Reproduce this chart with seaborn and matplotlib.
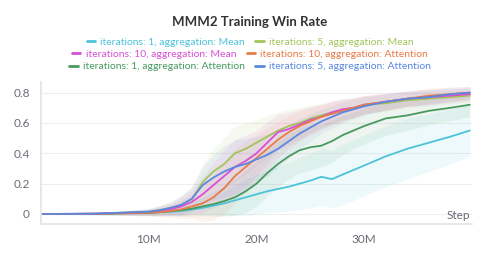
import matplotlib
matplotlib.use("Agg")
import matplotlib.pyplot as plt
from matplotlib.lines import Line2D
import seaborn as sns
import numpy as np
import pandas as pd

steps = [0, 5, 10, 11, 12, 13, 14, 15, 16, 17, 18, 19, 20, 21, 22, 23, 24, 25, 26, 27, 28, 29, 30, 32, 34, 36, 38, 39.8]

it1_mean = [0, 0.001, 0.01, 0.012, 0.015, 0.02, 0.03, 0.04, 0.055, 0.07, 0.09, 0.11, 0.13, 0.15, 0.165, 0.18, 0.20, 0.22, 0.245, 0.23, 0.26, 0.29, 0.32, 0.38, 0.43, 0.47, 0.51, 0.55]
it5_mean = [0, 0.002, 0.015, 0.025, 0.04, 0.06, 0.10, 0.21, 0.28, 0.33, 0.40, 0.43, 0.47, 0.51, 0.55, 0.58, 0.60, 0.63, 0.65, 0.67, 0.69, 0.70, 0.72, 0.73, 0.75, 0.76, 0.77, 0.78]
it10_mean = [0, 0.002, 0.012, 0.02, 0.03, 0.05, 0.08, 0.13, 0.19, 0.25, 0.31, 0.35, 0.40, 0.47, 0.54, 0.56, 0.59, 0.62, 0.64, 0.67, 0.69, 0.70, 0.72, 0.74, 0.76, 0.77, 0.78, 0.79]
it10_attn = [0, 0.001, 0.008, 0.012, 0.02, 0.03, 0.05, 0.07, 0.11, 0.17, 0.25, 0.31, 0.37, 0.43, 0.49, 0.54, 0.58, 0.61, 0.64, 0.66, 0.68, 0.70, 0.72, 0.74, 0.76, 0.78, 0.79, 0.80]
it1_attn = [0, 0.001, 0.008, 0.012, 0.018, 0.025, 0.035, 0.05, 0.065, 0.085, 0.11, 0.15, 0.20, 0.27, 0.33, 0.38, 0.42, 0.44, 0.45, 0.48, 0.52, 0.55, 0.58, 0.63, 0.65, 0.68, 0.70, 0.72]
it5_attn = [0, 0.002, 0.015, 0.025, 0.04, 0.06, 0.10, 0.19, 0.24, 0.28, 0.31, 0.33, 0.36, 0.39, 0.43, 0.48, 0.53, 0.57, 0.61, 0.64, 0.67, 0.69, 0.71, 0.74, 0.76, 0.77, 0.79, 0.80]

band_it1_mean = [0.005, 0.01, 0.02, 0.02, 0.025, 0.03, 0.03, 0.045, 0.06, 0.08, 0.10, 0.12, 0.13, 0.14, 0.15, 0.16, 0.17, 0.18, 0.19, 0.19, 0.20, 0.20, 0.20, 0.20, 0.20, 0.19, 0.18, 0.17]
band_fast = [0.002, 0.005, 0.02, 0.03, 0.04, 0.06, 0.08, 0.12, 0.15, 0.17, 0.18, 0.17, 0.15, 0.14, 0.12, 0.11, 0.10, 0.09, 0.08, 0.075, 0.07, 0.065, 0.06, 0.055, 0.05, 0.05, 0.045, 0.04]
band_it1_attn = [0.002, 0.005, 0.02, 0.025, 0.03, 0.04, 0.05, 0.06, 0.08, 0.10, 0.12, 0.14, 0.15, 0.15, 0.15, 0.15, 0.15, 0.15, 0.14, 0.14, 0.13, 0.12, 0.12, 0.11, 0.10, 0.09, 0.085, 0.08]

labels = [
    "iterations: 1, aggregation: Mean",
    "iterations: 5, aggregation: Mean",
    "iterations: 10, aggregation: Mean",
    "iterations: 10, aggregation: Attention",
    "iterations: 1, aggregation: Attention",
    "iterations: 5, aggregation: Attention",
]
colors = ["#4cc3d9", "#a1c55a", "#d84fd6", "#e87b48", "#479a5f", "#5a87e0"]
series = [it1_mean, it5_mean, it10_mean, it10_attn, it1_attn, it5_attn]
bands = [band_it1_mean, band_fast, band_fast, band_fast, band_it1_attn, band_fast]
draw_order = [0, 4, 1, 2, 3, 5]

rows = []
for lab, vals in zip(labels, series):
    for s, v in zip(steps, vals):
        rows.append({"step": s, "value": v, "run": lab})
df = pd.DataFrame(rows)

sns.set_theme(style="white")
plt.rcParams["font.family"] = ["Lato", "DejaVu Sans"]

fig = plt.figure(figsize=(5.0, 2.62), dpi=100)
ax = fig.add_axes([0.082, 0.145, 0.862, 0.542])

for i in draw_order:
    lo = np.array(series[i]) - np.array(bands[i])
    hi = np.array(series[i]) + np.array(bands[i])
    ax.fill_between(steps, lo, hi, color=colors[i], alpha=0.09, linewidth=0)

palette = dict(zip(labels, colors))
hue_order = [labels[i] for i in draw_order]
sns.lineplot(data=df, x="step", y="value", hue="run", hue_order=hue_order,
             palette=palette, linewidth=1.3, legend=False, ax=ax)

ax.set_xlim(0, 40)
ax.set_ylim(-0.066, 0.87)
ax.set_xticks([10, 20, 30])
ax.set_xticklabels(["10M", "20M", "30M"])
ax.set_yticks([0, 0.2, 0.4, 0.6, 0.8])
ax.set_yticklabels(["0", "0.2", "0.4", "0.6", "0.8"])
ax.set_xlabel("")
ax.set_ylabel("")
ax.grid(axis="y", color="#eeeeee", linewidth=0.8)
ax.grid(axis="x", visible=False)
for sp in ["top", "right"]:
    ax.spines[sp].set_visible(False)
for sp in ["left", "bottom"]:
    ax.spines[sp].set_color("#e3e3e3")
    ax.spines[sp].set_linewidth(1.2)
ax.tick_params(axis="both", colors="#e0e0e0", labelcolor="#6b6b76", labelsize=8.5, length=4, width=0.8)
ax.tick_params(axis="x", direction="inout", length=6, pad=4)
ax.tick_params(axis="y", pad=4)
ax.text(0.995, 0.06, "Step", transform=ax.transAxes, ha="right", va="center",
        fontsize=8.5, color="#6b6b76")

fig.text(0.5, 0.915, "MMM2 Training Win Rate", ha="center", va="center",
         fontsize=9.5, fontweight="bold", color="#333333")

legend_rows = [(0, 1), (2, 3), (4, 5)]
row_y = [0.838, 0.792, 0.745]
for (a, b), y in zip(legend_rows, row_y):
    handles = [Line2D([0], [0], color=colors[a], linewidth=2),
               Line2D([0], [0], color=colors[b], linewidth=2)]
    fig.legend(handles, [labels[a], labels[b]], loc="center", bbox_to_anchor=(0.5, y),
               ncol=2, frameon=False, fontsize=7.5, labelcolor="linecolor",
               handlelength=0.8, handletextpad=0.5, columnspacing=1.0,
               borderpad=0, borderaxespad=0)

fig.savefig("out.png", dpi=100)
